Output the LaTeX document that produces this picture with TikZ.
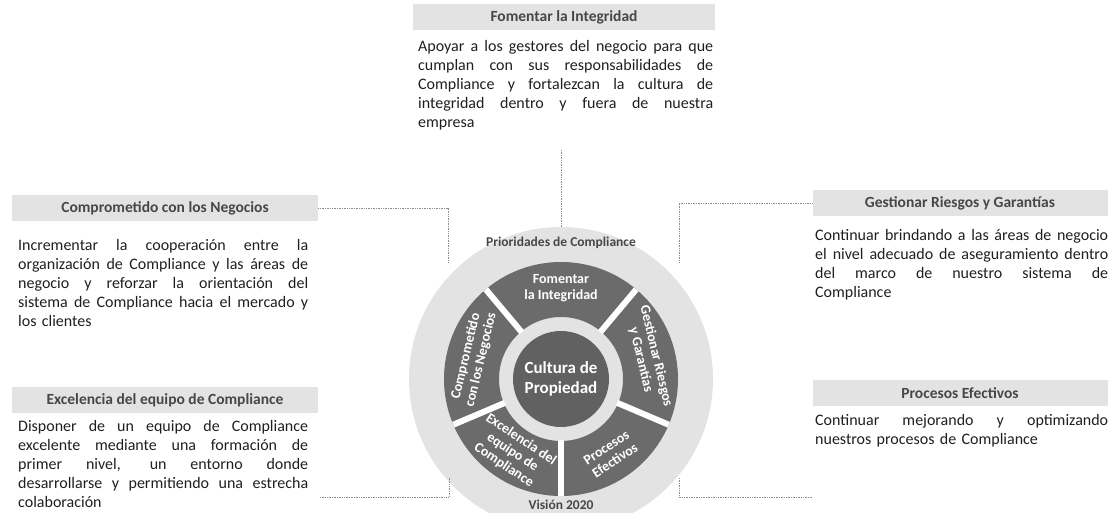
\documentclass[tikz,border=0pt]{standalone}
\usepackage{fontspec}
\setmainfont{Carlito}
\usetikzlibrary{calc}

% one justified line of a paragraph
\newcommand{\jline}[1]{\makebox[\hsize][s]{\spaceskip=0pt\xspaceskip=0pt\relax #1}\\}

\begin{document}
\begin{tikzpicture}[x=1pt,y=1pt,
  title/.style={fill=black!11, minimum height=26pt, inner sep=0pt,
    font=\fontsize{15.5}{18}\selectfont\bfseries, text=black!72},
  para/.style={anchor=north west, inner sep=0pt, align=left,
    font=\fontsize{16}{19}\selectfont, text=black!88},
  link/.style={densely dotted, black!45, line width=0.7pt},
  segtext/.style={text=white, align=center,
    font=\fontsize{14}{15.5}\selectfont\bfseries},
  ringlabel/.style={text=black!72, font=\fontsize{13.5}{15}\selectfont\bfseries}]
\useasboundingbox (0,0) rectangle (1110,513);

% Wheel
\coordinate (c) at (561,134);
\node[circle, fill=black!11, minimum size=304pt, inner sep=0pt] (outer) at (c) {};
\fill[black!58, even odd rule] (c) circle[radius=117] (c) circle[radius=62];
\foreach \a in {130,50,-23,-90,203}
  \draw[white, line width=6pt] ($(c)+(\a:61)$) -- ($(c)+(\a:117)$);
\node[circle, fill=black!62, minimum size=96pt, inner sep=0pt, text=white,
  align=center, font=\fontsize{17}{20}\selectfont\bfseries] (core) at (c)
  {Cultura de\\Propiedad};

\node[segtext] (segFom) at ($(c)+(90:91)$) {Fomentar\\la Integridad};
\node[segtext, rotate=-76.5] (segGest) at ($(c)+(13.5:90)$) {Gestionar Riesgos\\y Garantías};
\node[segtext, rotate=33.5] (segProc) at ($(c)+(-56.5:90)$) {Procesos\\Efectivos};
\node[segtext, rotate=-33.5] (segExc) at ($(c)+(236.5:88)$) {Excelencia del\\equipo de\\Compliance};
\node[segtext, rotate=76.5] (segComp) at ($(c)+(166.5:90)$) {Comprometido\\con los Negocios};

\node[ringlabel] (prio) at ($(c)+(0,136)$) {Prioridades de Compliance};
\node[ringlabel] (vision) at ($(c)+(0,-126)$) {Visión 2020};

% Titles
\node[title, minimum width=302pt] (fomT)  at (564,496) {Fomentar la Integridad};
\node[title, minimum width=306pt] (compT) at (165,305) {Comprometido con los Negocios};
\node[title, minimum width=306pt] (excT)  at (165,113) {Excelencia del equipo de Compliance};
\node[title, minimum width=295pt] (gestT) at (960,310) {Gestionar Riesgos y Garantías};
\node[title, minimum width=295pt] (procT) at (960,120) {Procesos Efectivos};

% Texts
\node[para, text width=295pt] (fomP) at (418,473) {%
  \jline{Apoyar a los gestores del negocio para que}
  \jline{cumplan con sus responsabilidades de}
  \jline{Compliance y fortalezcan la cultura de}
  \jline{integridad dentro y fuera de nuestra}
  empresa};
\node[para, text width=290pt] (compP) at (18,274) {%
  \jline{Incrementar la cooperación entre la}
  \jline{organización de Compliance y las áreas de}
  \jline{negocio y reforzar la orientación del}
  \jline{sistema de Compliance hacia el mercado y}
  los clientes};
\node[para, text width=290pt] (excP) at (18,93) {%
  \jline{Disponer de un equipo de Compliance}
  \jline{excelente mediante una formación de}
  \jline{primer nivel, un entorno donde}
  \jline{desarrollarse y permitiendo una estrecha}
  colaboración};
\node[para, text width=293pt] (gestP) at (815,284) {%
  \jline{Continuar brindando a las áreas de negocio}
  \jline{el nivel adecuado de aseguramiento dentro}
  \jline{del marco de nuestro sistema de}
  Compliance};
\node[para, text width=293pt] (procP) at (815,99) {%
  \jline{Continuar mejorando y optimizando}
  nuestros procesos de Compliance};

% Links
\coordinate (fomEnd)  at (561,363);
\coordinate (compEnd) at (448,250);
\coordinate (gestEnd) at (679,250);
\coordinate (excBeg)  at (320,16);
\coordinate (excEnd)  at (449,35);
\coordinate (procBeg) at (812,16);
\coordinate (procEnd) at (679,35);
\draw[link] (fomEnd) -- (outer.north);
\draw[link] (compT.east) -| (compEnd);
\draw[link] (gestT.west) -| (gestEnd);
\draw[link] (excBeg) -| (excEnd);
\draw[link] (procBeg) -| (procEnd);
\end{tikzpicture}
\end{document}
